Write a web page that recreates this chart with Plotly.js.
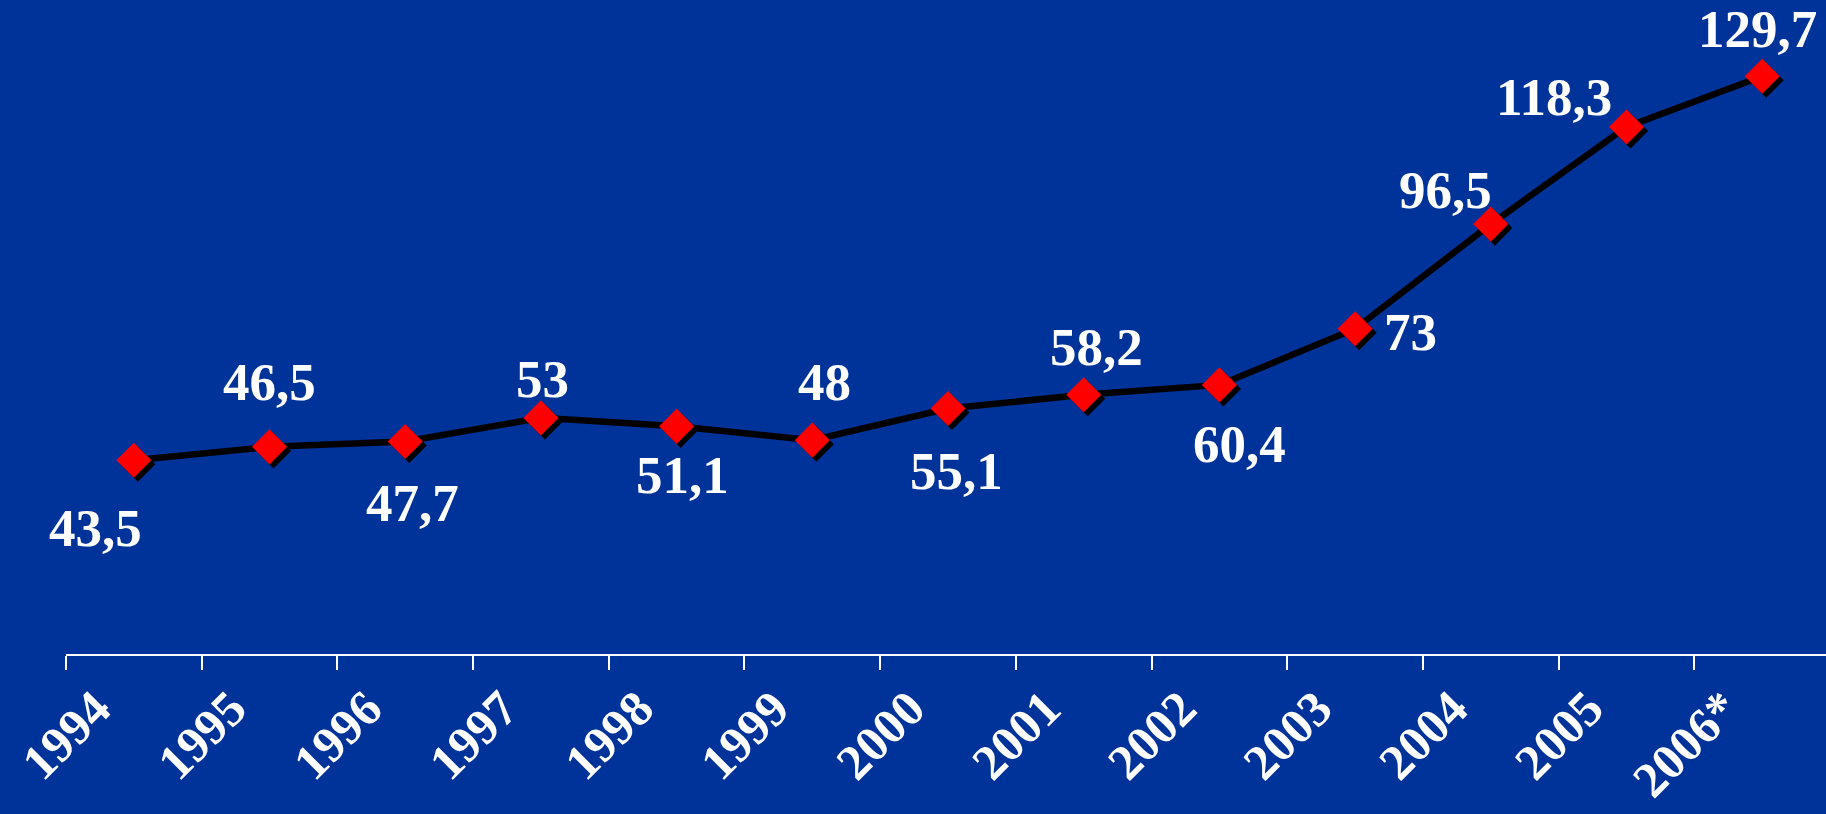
<!DOCTYPE html>
<html>
<head>
<meta charset="utf-8">
<script src="https://cdn.plot.ly/plotly-3.0.1.min.js"></script>
<style>
html,body{margin:0;padding:0;background:#003399;}
#chart{width:1826px;height:814px;}
</style>
</head>
<body>
<div id="chart"></div>
<script>
var years = ['1994','1995','1996','1997','1998','1999','2000','2001','2002','2003','2004','2005','2006*'];
var values = [43.5, 46.5, 47.7, 53, 51.1, 48, 55.1, 58.2, 60.4, 73, 96.5, 118.3, 129.7];

// label offsets in pixels (style only): [dx, dy down]
var labelOffsets = [[-38,68],[0,-65],[7,62],[2,-39],[6,49],[12,-58],[8,62],[13,-48],[20,59],[55,3],[-45,-34],[-73,-30],[-5,-47]];

var bg = '#003399';
var fontFam = '"Liberation Serif", "Times New Roman", serif';

var xr = [-0.5, 12.47];
var yr = [0, 146.8];
var pxPerCat = 1760 / (xr[1] - xr[0]);
var pxPerUnit = 654 / (yr[1] - yr[0]);
var sh = 4; // shadow offset px

var lineTrace = {
  x: years, y: values, type: 'scatter', mode: 'lines',
  line: {color: '#000000', width: 6.5}, hoverinfo: 'skip', xaxis: 'x', yaxis: 'y'
};
var shadowTrace = {
  x: years, y: values, type: 'scatter', mode: 'markers',
  marker: {symbol: 'diamond', size: 27, color: '#000000', line: {width: 0}},
  xaxis: 'x2', yaxis: 'y2', hoverinfo: 'skip', cliponaxis: false
};
var markerTrace = {
  x: years, y: values, type: 'scatter', mode: 'markers',
  marker: {symbol: 'diamond', size: 27, color: '#ff0000', line: {width: 0}},
  xaxis: 'x3', yaxis: 'y3', hoverinfo: 'skip', cliponaxis: false
};

var annotations = values.map(function(v, i){
  return {
    x: i, y: v, xref: 'x', yref: 'y',
    text: String(v).replace('.', ','),
    showarrow: false,
    xshift: labelOffsets[i][0], yshift: -labelOffsets[i][1],
    font: {family: fontFam, size: 53, color: '#ffffff', weight: 700}
  };
});

var layout = {
  width: 1826, height: 814,
  margin: {l: 66, r: 0, t: 0, b: 160, pad: 0},
  paper_bgcolor: bg, plot_bgcolor: bg,
  showlegend: false,
  xaxis: {
    type: 'category', range: xr,
    showline: true, linecolor: '#ffffff', linewidth: 2,
    ticks: 'outside', ticklen: 14, tickwidth: 2, tickcolor: '#ffffff',
    tickson: 'boundaries', showgrid: false, zeroline: false,
    tickangle: -45, ticklabelshift: -38, ticklabelstandoff: 3,
    tickfont: {family: fontFam, size: 50, color: '#ffffff', weight: 700},
    fixedrange: true
  },
  yaxis: {
    range: yr, visible: false, showgrid: false, zeroline: false, fixedrange: true
  },
  xaxis2: {
    type: 'category', overlaying: 'x', visible: false,
    range: [xr[0] - sh / pxPerCat, xr[1] - sh / pxPerCat], fixedrange: true
  },
  yaxis2: {
    overlaying: 'y', visible: false,
    range: [yr[0] + sh / pxPerUnit, yr[1] + sh / pxPerUnit], fixedrange: true
  },
  xaxis3: {
    type: 'category', overlaying: 'x', visible: false, range: xr, fixedrange: true
  },
  yaxis3: {
    overlaying: 'y', visible: false, range: yr, fixedrange: true
  },
  annotations: annotations
};

Plotly.newPlot('chart', [lineTrace, shadowTrace, markerTrace], layout, {displayModeBar: false, staticPlot: true});
</script>
</body>
</html>
